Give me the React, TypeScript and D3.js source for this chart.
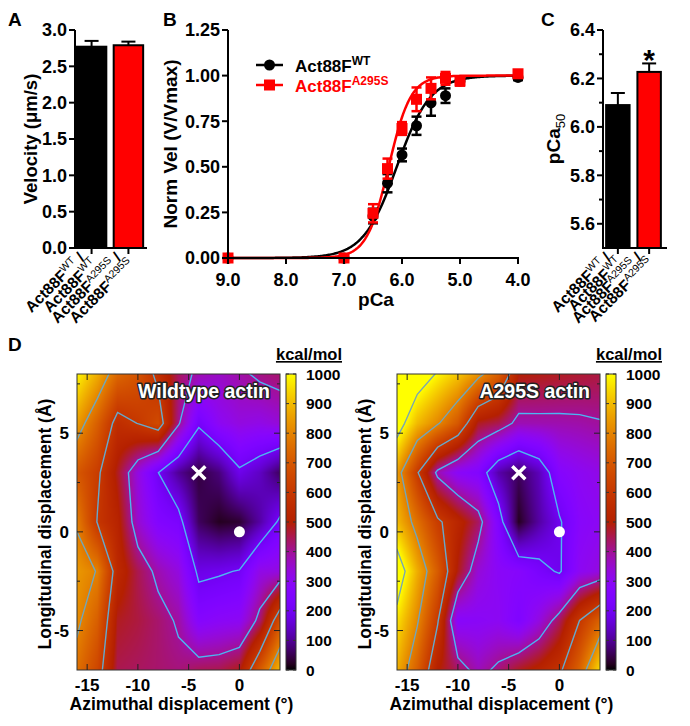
import React, { useEffect, useRef } from 'react';
import * as d3 from 'd3';

const FONT = "'Liberation Sans', Arial, Helvetica, sans-serif";

// ---- Panel A: velocity
const genotypes = ['WT', 'A295S'];
const barColors = ['#000000', '#ff0000'];
const velocity = [2.77, 2.79];
const velocityErr = [0.08, 0.05];
const velocityTicks = [0, 0.5, 1.0, 1.5, 2.0, 2.5, 3.0];

// ---- Panel B: pCa-velocity
const pCaPoints = [9.0, 7.0, 6.5, 6.25, 6.0, 5.75, 5.5, 5.25, 5.0, 4.0];
const normVelWT = [0, 0, 0.23, 0.41, 0.565, 0.725, 0.85, 0.89, 0.97, 0.99];
const normVelWTErr = [0, 0, 0.04, 0.05, 0.035, 0.05, 0.07, 0.04, 0.02, 0.015];
const normVelA295S = [0, 0, 0.245, 0.49, 0.71, 0.87, 0.93, 0.985, 0.97, 1.01];
const normVelA295SErr = [0, 0, 0.05, 0.055, 0.035, 0.065, 0.06, 0.035, 0.025, 0.015];
// Hill fits: pCa50, Hill coefficient
const hillWT = [6.09, 1.5];
const hillA295S = [6.23, 2.3];
const normVelTicks = [0, 0.25, 0.5, 0.75, 1.0, 1.25];
const pCaTicks = [9, 8, 7, 6, 5, 4];

// ---- Panel C: pCa50
const pCa50 = [6.09, 6.227];
const pCa50Err = [0.05, 0.035];
const pCa50Ticks = [5.6, 5.8, 6.0, 6.2, 6.4];
const pCa50Minor = [5.7, 5.9, 6.1, 6.3];

// ---- Panel D: energy landscapes (kcal/mol), rows from top (8 Å) to bottom (-7 Å)
const azimuth = [-16, -14, -12, -10, -8, -6, -4, -2, 0, 2, 4];
const longitudinal = [8, 5.5, 3, 0.5, -2, -4.5, -7];
const energyWT = [
  [990, 880, 740, 690, 570, 440, 380, 360, 385, 415, 430],
  [850, 720, 560, 602, 663, 411, 215, 300, 330, 320, 340],
  [700, 620, 480, 330, 201, 100, 40, 80, 185, 140, 60],
  [790, 596, 520, 350, 260, 235, 60, 20, 30, 110, 217],
  [840, 796, 543, 450, 379, 330, 180, 190, 205, 320, 330],
  [820, 720, 480, 460, 430, 390, 271, 290, 300, 425, 680],
  [760, 650, 450, 440, 430, 420, 445, 450, 485, 704, 900],
];
const energyA295S = [
  [1150, 1070, 990, 920, 830, 720, 500, 490, 480, 470, 460],
  [1060, 900, 810, 700, 480, 450, 375, 378, 380, 385, 395],
  [850, 610, 377, 290, 260, 117, 60, 130, 270, 300, 320],
  [900, 760, 620, 530, 440, 250, 20, 110, 190, 280, 300],
  [1080, 880, 712, 488, 341, 290, 276, 230, 190, 300, 330],
  [960, 810, 610, 280, 290, 300, 250, 330, 440, 602, 727],
  [880, 720, 502, 440, 370, 420, 480, 520, 580, 730, 955],
];
const contourLevels = [200, 400, 600, 800, 1000];
const contourColors = ['#4cb6f2', '#4cb6f2', '#66a9cc', '#72a6b8', '#7aa6b2'];
const energyTicks = [0, 100, 200, 300, 400, 500, 600, 700, 800, 900, 1000];
const azimuthTicks = [-15, -10, -5, 0];
const longTicks = [-5, 0, 5];
const longMinor = [-2.5, 2.5, 7.5];
const minimumPos = [-4, 3];
const startPos = [0, 0];

function gnuplotColor(v: number) {
  const t = Math.max(0, Math.min(1, v / 1000));
  const r = Math.sqrt(t);
  const g = t * t * t;
  const b = Math.max(0, Math.sin(2 * Math.PI * t));
  return [Math.round(r * 255), Math.round(g * 255), Math.round(b * 255)];
}

function hill(p: number, fit: number[]) {
  return 1 / (1 + Math.pow(10, fit[1] * (p - fit[0])));
}

function styleText(sel: any, size: number, weight = 'bold') {
  return sel.style('font-family', FONT).style('font-size', size + 'px').style('font-weight', weight);
}

function panelLetter(svg: any, x: number, y: number, t: string) {
  styleText(svg.append('text').attr('x', x).attr('y', y), 19).text(t);
}

// one rotated row of a genotype label, right-aligned at (x, y)
function labelRow(svg: any, x: number, y: number, sup: string, slash: boolean) {
  const t = styleText(
    svg.append('text').attr('transform', `translate(${x},${y}) rotate(-45)`).attr('text-anchor', 'end'),
    15.5
  );
  t.append('tspan').text('Act88F');
  t.append('tspan').attr('dy', -6).style('font-size', '10.5px').style('font-weight', 'normal').text(sup);
  if (slash) t.append('tspan').attr('dy', 6).text(' /');
}

// two rows per genotype; the row gap is half the perpendicular tick spacing
function categoryLabel(svg: any, tickX: number, axisY: number, sup: string, step: number) {
  const gap = (step * Math.SQRT1_2) / 2;
  const x1 = tickX - 6;
  const y1 = axisY + 11;
  labelRow(svg, x1, y1, sup, true);
  labelRow(svg, x1 + gap * Math.SQRT1_2 + 3, y1 + gap * Math.SQRT1_2 - 3, sup, false);
}

function drawChart(node: SVGSVGElement) {
  const svg = d3.select(node);
  svg.selectAll('*').remove();
  const defs = svg.append('defs');

  // ---------------- Panel A
  const ax = d3.scaleBand().domain(genotypes).range([75, 145]).paddingInner(0.2).paddingOuter(0.05);
  const ay = d3.scaleLinear().domain([0, 3]).range([248, 30]);
  panelLetter(svg, 8, 26, 'A');

  genotypes.forEach((g, i) => {
    const x0 = ax(g)!;
    const cx = x0 + ax.bandwidth() / 2;
    svg.append('line').attr('x1', cx).attr('x2', cx)
      .attr('y1', ay(velocity[i])).attr('y2', ay(velocity[i] + velocityErr[i]))
      .attr('stroke', '#000').attr('stroke-width', 2);
    svg.append('line').attr('x1', cx - 7).attr('x2', cx + 7)
      .attr('y1', ay(velocity[i] + velocityErr[i])).attr('y2', ay(velocity[i] + velocityErr[i]))
      .attr('stroke', '#000').attr('stroke-width', 2);
    svg.append('rect').attr('x', x0).attr('y', ay(velocity[i]))
      .attr('width', ax.bandwidth()).attr('height', ay(0) - ay(velocity[i]))
      .attr('fill', barColors[i]).attr('stroke', '#000').attr('stroke-width', 2);
    svg.append('line').attr('x1', cx).attr('x2', cx).attr('y1', 248).attr('y2', 254)
      .attr('stroke', '#000').attr('stroke-width', 2);
    categoryLabel(svg, cx, 248, g, ax.step());
  });
  svg.append('line').attr('x1', 75).attr('x2', 75).attr('y1', ay(0) + 1).attr('y2', ay(3))
    .attr('stroke', '#000').attr('stroke-width', 2);
  svg.append('line').attr('x1', 74).attr('x2', 147).attr('y1', ay(0)).attr('y2', ay(0))
    .attr('stroke', '#000').attr('stroke-width', 2);
  velocityTicks.forEach((t) => {
    svg.append('line').attr('x1', 69).attr('x2', 75).attr('y1', ay(t)).attr('y2', ay(t))
      .attr('stroke', '#000').attr('stroke-width', 2);
    styleText(svg.append('text').attr('x', 67).attr('y', ay(t)).attr('dy', '0.36em').attr('text-anchor', 'end'), 18)
      .text(d3.format('.1f')(t));
  });
  styleText(svg.append('text').attr('transform', `translate(37,${ay(1.5)}) rotate(-90)`).attr('text-anchor', 'middle'), 18.5)
    .text('Velocity (\u03bcm/s)');

  // ---------------- Panel B
  const bx = d3.scaleLinear().domain([9, 4]).range([228, 518]);
  const by = d3.scaleLinear().domain([0, 1.25]).range([258, 30]);
  panelLetter(svg, 163, 26, 'B');
  const curve = d3.line<number>().x((p) => bx(p)).y((p) => by(hill(p, hillWT)));
  const samples = d3.range(9, 3.995, -0.02);
  svg.append('path').attr('d', curve(samples)).attr('fill', 'none').attr('stroke', '#000').attr('stroke-width', 2.5);
  const curveM = d3.line<number>().x((p) => bx(p)).y((p) => by(hill(p, hillA295S)));
  svg.append('path').attr('d', curveM(samples)).attr('fill', 'none').attr('stroke', '#ff0000').attr('stroke-width', 2.5);

  const drawSeries = (vals: number[], errs: number[], color: string, square: boolean) => {
    pCaPoints.forEach((p, i) => {
      const cx = bx(p);
      if (errs[i] > 0) {
        const y1 = by(vals[i] - errs[i]);
        const y2 = by(vals[i] + errs[i]);
        svg.append('line').attr('x1', cx).attr('x2', cx).attr('y1', y1).attr('y2', y2).attr('stroke', color).attr('stroke-width', 2.5);
        [y1, y2].forEach((yy) => svg.append('line').attr('x1', cx - 5).attr('x2', cx + 5).attr('y1', yy).attr('y2', yy)
          .attr('stroke', color).attr('stroke-width', 2.5));
      }
      if (square) {
        svg.append('rect').attr('x', cx - 5.5).attr('y', by(vals[i]) - 5.5).attr('width', 11).attr('height', 11).attr('fill', color);
      } else {
        svg.append('circle').attr('cx', cx).attr('cy', by(vals[i])).attr('r', 5.5).attr('fill', color);
      }
    });
  };
  drawSeries(normVelWT, normVelWTErr, '#000', false);
  drawSeries(normVelA295S, normVelA295SErr, '#ff0000', true);

  svg.append('line').attr('x1', 228).attr('x2', 228).attr('y1', by(0) + 1).attr('y2', by(1.25)).attr('stroke', '#000').attr('stroke-width', 2);
  svg.append('line').attr('x1', 227).attr('x2', 519).attr('y1', by(0)).attr('y2', by(0)).attr('stroke', '#000').attr('stroke-width', 2);
  normVelTicks.forEach((t) => {
    svg.append('line').attr('x1', 222).attr('x2', 228).attr('y1', by(t)).attr('y2', by(t)).attr('stroke', '#000').attr('stroke-width', 2);
    styleText(svg.append('text').attr('x', 220).attr('y', by(t)).attr('dy', '0.36em').attr('text-anchor', 'end'), 18)
      .text(d3.format('.2f')(t));
  });
  pCaTicks.forEach((t) => {
    svg.append('line').attr('x1', bx(t)).attr('x2', bx(t)).attr('y1', by(0)).attr('y2', by(0) + 6).attr('stroke', '#000').attr('stroke-width', 2);
    styleText(svg.append('text').attr('x', bx(t)).attr('y', 286).attr('text-anchor', 'middle'), 18).text(d3.format('.1f')(t));
  });
  styleText(svg.append('text').attr('x', 376).attr('y', 306).attr('text-anchor', 'middle'), 19).text('pCa');
  styleText(svg.append('text').attr('transform', `translate(177,${by(0.625)}) rotate(-90)`).attr('text-anchor', 'middle'), 19)
    .text('Norm Vel (V/Vmax)');

  // legend
  [['WT', '#000', false], ['A295S', '#ff0000', true]].forEach(([sup, color, square]: any, i) => {
    const ly = 65 + i * 20;
    svg.append('line').attr('x1', 256).attr('x2', 283).attr('y1', ly).attr('y2', ly).attr('stroke', color).attr('stroke-width', 2.5);
    if (square) svg.append('rect').attr('x', 264).attr('y', ly - 5.5).attr('width', 11).attr('height', 11).attr('fill', color);
    else svg.append('circle').attr('cx', 269.5).attr('cy', ly).attr('r', 5.5).attr('fill', color);
    const t = styleText(svg.append('text').attr('x', 295).attr('y', ly + 7).attr('fill', color), 17);
    t.append('tspan').text('Act88F');
    t.append('tspan').attr('dy', -7).style('font-size', '12px').text(sup);
  });

  // ---------------- Panel C
  const cxs = d3.scaleBand().domain(genotypes).range([603, 664]).paddingInner(0.25).paddingOuter(0.1);
  const cy = d3.scaleLinear().domain([5.5, 6.4]).range([248, 30]);
  panelLetter(svg, 541, 26, 'C');
  genotypes.forEach((g, i) => {
    const x0 = cxs(g)!;
    const cx = x0 + cxs.bandwidth() / 2;
    const top = cy(pCa50[i] + pCa50Err[i]);
    svg.append('line').attr('x1', cx).attr('x2', cx).attr('y1', cy(pCa50[i])).attr('y2', top).attr('stroke', '#000').attr('stroke-width', 2);
    svg.append('line').attr('x1', cx - 7).attr('x2', cx + 7).attr('y1', top).attr('y2', top).attr('stroke', '#000').attr('stroke-width', 2);
    svg.append('rect').attr('x', x0).attr('y', cy(pCa50[i])).attr('width', cxs.bandwidth()).attr('height', cy(5.5) - cy(pCa50[i]))
      .attr('fill', barColors[i]).attr('stroke', '#000').attr('stroke-width', 2);
    svg.append('line').attr('x1', cx).attr('x2', cx).attr('y1', 248).attr('y2', 254).attr('stroke', '#000').attr('stroke-width', 2);
    categoryLabel(svg, cx, 248, g, cxs.step());
  });
  const redX = cxs(genotypes[1])! + cxs.bandwidth() / 2;
  styleText(svg.append('text').attr('x', redX).attr('y', 70).attr('text-anchor', 'middle'), 30).text('*');
  svg.append('line').attr('x1', 603).attr('x2', 603).attr('y1', cy(5.5) + 1).attr('y2', cy(6.4)).attr('stroke', '#000').attr('stroke-width', 2);
  svg.append('line').attr('x1', 602).attr('x2', 667).attr('y1', cy(5.5)).attr('y2', cy(5.5)).attr('stroke', '#000').attr('stroke-width', 2);
  pCa50Ticks.forEach((t) => {
    svg.append('line').attr('x1', 597).attr('x2', 603).attr('y1', cy(t)).attr('y2', cy(t)).attr('stroke', '#000').attr('stroke-width', 2);
    styleText(svg.append('text').attr('x', 595).attr('y', cy(t)).attr('dy', '0.36em').attr('text-anchor', 'end'), 18)
      .text(d3.format('.1f')(t));
  });
  pCa50Minor.forEach((t) => {
    svg.append('line').attr('x1', 599).attr('x2', 603).attr('y1', cy(t)).attr('y2', cy(t)).attr('stroke', '#000').attr('stroke-width', 2);
  });
  const yl = styleText(svg.append('text').attr('transform', `translate(560,${cy(5.95)}) rotate(-90)`).attr('text-anchor', 'middle'), 19);
  yl.append('tspan').text('pCa');
  yl.append('tspan').attr('dy', 5).style('font-size', '13px').style('font-weight', 'normal').text('50');

  // ---------------- Panel D
  panelLetter(svg, 8, 351, 'D');
  drawEnergyMap(svg, defs, energyWT, 77, 'Wildtype actin', 'wt');
  drawEnergyMap(svg, defs, energyA295S, 397, 'A295S actin', 'mut');
}

function drawEnergyMap(svg: any, defs: any, grid: number[][], left: number, title: string, id: string) {
  const top = 374;
  const width = 203;
  const height = 296;
  const right = left + width;
  const bottom = top + height;
  const x = d3.scaleLinear().domain([-16, 4]).range([left, right]);
  const y = d3.scaleLinear().domain([-7, 8]).range([bottom, top]);
  const nx = azimuth.length;
  const ny = longitudinal.length;
  const stepX = azimuth[1] - azimuth[0];
  const stepY = longitudinal[0] - longitudinal[1];

  const energyAt = (a: number, l: number) => {
    const fx = (a - azimuth[0]) / stepX;
    const fy = (longitudinal[0] - l) / stepY;
    const i = Math.max(0, Math.min(nx - 2, Math.floor(fx)));
    const j = Math.max(0, Math.min(ny - 2, Math.floor(fy)));
    const tx = Math.max(0, Math.min(1, fx - i));
    const ty = Math.max(0, Math.min(1, fy - j));
    return (1 - tx) * (1 - ty) * grid[j][i] + tx * (1 - ty) * grid[j][i + 1] +
      (1 - tx) * ty * grid[j + 1][i] + tx * ty * grid[j + 1][i + 1];
  };

  // shaded surface (bilinear, like pm3d interpolate)
  const canvas = document.createElement('canvas');
  canvas.width = width;
  canvas.height = height;
  const ctx = canvas.getContext('2d')!;
  const img = ctx.createImageData(width, height);
  for (let py = 0; py < height; py++) {
    const l = y.invert(top + py + 0.5);
    for (let px = 0; px < width; px++) {
      const a = x.invert(left + px + 0.5);
      const [r, g, b] = gnuplotColor(energyAt(a, l));
      const k = (py * width + px) * 4;
      img.data[k] = r;
      img.data[k + 1] = g;
      img.data[k + 2] = b;
      img.data[k + 3] = 255;
    }
  }
  ctx.putImageData(img, 0, 0);
  svg.append('image').attr('href', canvas.toDataURL()).attr('x', left).attr('y', top)
    .attr('width', width).attr('height', height).attr('preserveAspectRatio', 'none');

  // contour lines
  defs.append('clipPath').attr('id', 'clip-' + id).append('rect')
    .attr('x', left).attr('y', top).attr('width', width).attr('height', height);
  const padded: number[] = [];
  for (let j = -1; j <= ny; j++) {
    for (let i = -1; i <= nx; i++) {
      padded.push(grid[Math.max(0, Math.min(ny - 1, j))][Math.max(0, Math.min(nx - 1, i))]);
    }
  }
  const contours = d3.contours().size([nx + 2, ny + 2]).thresholds(contourLevels)(padded);
  const proj = d3.geoTransform({
    point(cx: number, cyy: number) {
      (this as any).stream.point(x(azimuth[0] + (cx - 1.5) * stepX), y(longitudinal[0] - (cyy - 1.5) * stepY));
    },
  });
  const path = d3.geoPath(proj);
  const cg = svg.append('g').attr('clip-path', `url(#clip-${id})`);
  contours.forEach((c, i) => {
    cg.append('path').attr('d', path(c as any)).attr('fill', 'none')
      .attr('stroke', contourColors[i]).attr('stroke-width', 1.4).attr('stroke-linejoin', 'miter');
  });

  // markers
  const mx = x(minimumPos[0]);
  const my = y(minimumPos[1]);
  const s = 6.5;
  svg.append('path').attr('d', `M${mx - s},${my - s}L${mx + s},${my + s}M${mx - s},${my + s}L${mx + s},${my - s}`)
    .attr('stroke', '#fff').attr('stroke-width', 3.5);
  svg.append('circle').attr('cx', x(startPos[0])).attr('cy', y(startPos[1])).attr('r', 5.5).attr('fill', '#fff');

  // frame and ticks
  svg.append('rect').attr('x', left).attr('y', top).attr('width', width).attr('height', height)
    .attr('fill', 'none').attr('stroke', '#333').attr('stroke-width', 1);
  azimuthTicks.forEach((t) => {
    svg.append('line').attr('x1', x(t)).attr('x2', x(t)).attr('y1', bottom).attr('y2', bottom - 6).attr('stroke', '#222');
    svg.append('line').attr('x1', x(t)).attr('x2', x(t)).attr('y1', top).attr('y2', top + 6).attr('stroke', '#222');
    styleText(svg.append('text').attr('x', x(t)).attr('y', bottom + 21).attr('text-anchor', 'middle'), 17)
      .text(t < 0 ? '-' + Math.abs(t) : String(t));
  });
  longTicks.forEach((t) => {
    svg.append('line').attr('x1', left).attr('x2', left + 6).attr('y1', y(t)).attr('y2', y(t)).attr('stroke', '#222');
    svg.append('line').attr('x1', right).attr('x2', right - 6).attr('y1', y(t)).attr('y2', y(t)).attr('stroke', '#222');
    styleText(svg.append('text').attr('x', left - 8).attr('y', y(t)).attr('dy', '0.36em').attr('text-anchor', 'end'), 17)
      .text(t < 0 ? '-' + Math.abs(t) : String(t));
  });
  longMinor.forEach((t) => {
    svg.append('line').attr('x1', left).attr('x2', left + 3).attr('y1', y(t)).attr('y2', y(t)).attr('stroke', '#222');
    svg.append('line').attr('x1', right).attr('x2', right - 3).attr('y1', y(t)).attr('y2', y(t)).attr('stroke', '#222');
  });
  styleText(svg.append('text').attr('x', (left + right) / 2 + 3).attr('y', bottom + 40).attr('text-anchor', 'middle'), 17.5)
    .text('Azimuthal displacement (\u00b0)');
  styleText(svg.append('text').attr('transform', `translate(${left - 26},${(top + bottom) / 2 + 2}) rotate(-90)`)
    .attr('text-anchor', 'middle'), 17.5).text('Longitudinal displacement (\u00c5)');

  // title
  styleText(svg.append('text').attr('x', right - 10).attr('y', top + 24).attr('text-anchor', 'end'), 19.5)
    .attr('fill', '#fff').attr('stroke', '#222').attr('stroke-width', 3).attr('paint-order', 'stroke')
    .attr('stroke-linejoin', 'round').text(title);

  // colour bar
  const cbX = right + 6;
  const cbW = 10;
  const cb = d3.scaleLinear().domain([0, 1000]).range([bottom, top]);
  const grad = defs.append('linearGradient').attr('id', 'cb-' + id)
    .attr('x1', 0).attr('y1', 1).attr('x2', 0).attr('y2', 0);
  d3.range(0, 1.0001, 0.02).forEach((t) => {
    const [r, g, b] = gnuplotColor(t * 1000);
    grad.append('stop').attr('offset', t).attr('stop-color', `rgb(${r},${g},${b})`);
  });
  svg.append('rect').attr('x', cbX).attr('y', top).attr('width', cbW).attr('height', height)
    .attr('fill', `url(#cb-${id})`).attr('stroke', '#333').attr('stroke-width', 1);
  energyTicks.forEach((t) => {
    svg.append('line').attr('x1', cbX).attr('x2', cbX + 3).attr('y1', cb(t)).attr('y2', cb(t)).attr('stroke', '#333');
    svg.append('line').attr('x1', cbX + cbW).attr('x2', cbX + cbW - 3).attr('y1', cb(t)).attr('y2', cb(t)).attr('stroke', '#333');
    styleText(svg.append('text').attr('x', cbX + cbW + 10).attr('y', cb(t)).attr('dy', '0.36em'), 15.5).text(String(t));
  });
  styleText(svg.append('text').attr('x', cbX + cbW + 46).attr('y', 360).attr('text-anchor', 'end'), 16.5)
    .style('text-decoration', 'underline').text('kcal/mol');
}

export default function App() {
  const ref = useRef<SVGSVGElement>(null);
  useEffect(() => {
    if (ref.current) drawChart(ref.current);
  }, []);
  return (
    <svg ref={ref} width={690} height={726}
      style={{ position: 'absolute', left: 0, top: 0, background: '#fff' }} />
  );
}
